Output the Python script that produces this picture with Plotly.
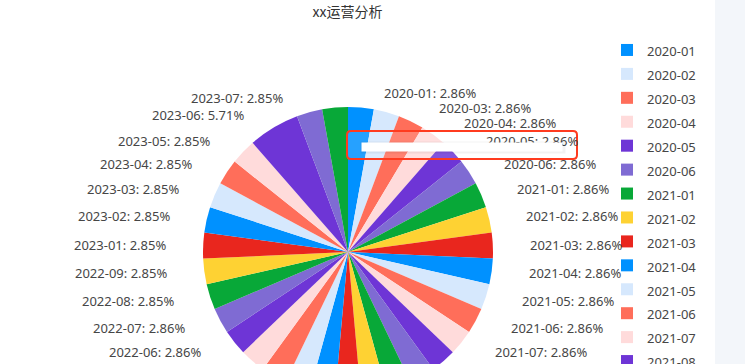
import math
import plotly.graph_objects as go

# ---------------- data ----------------
months = [
    "2020-01", "2020-02", "2020-03", "2020-04", "2020-05", "2020-06",
    "2021-01", "2021-02", "2021-03", "2021-04", "2021-05", "2021-06",
    "2021-07", "2021-08", "2021-09", "2021-10", "2021-11", "2021-12",
    "2022-02", "2022-03", "2022-04", "2022-05", "2022-06", "2022-07",
    "2022-08", "2022-09", "2023-01", "2023-02", "2023-03", "2023-04",
    "2023-05", "2023-06", "2023-07", "2023-08",
]
values = [
    1, 1, 1, 1, 1, 1,
    1, 1, 1, 1, 1, 1,
    1, 1, 1, 1, 1, 1,
    1, 1, 1, 1, 1, 1,
    1, 1, 1, 1, 1, 1,
    1, 2, 1, 1,
]
palette = ["#0091FF", "#D6E8FD", "#FF6E5A", "#FFDBDB", "#6E35D6",
           "#7F6BD3", "#08A838", "#FED233", "#E9261E"]
title_text = "xx运营分析"

# ---------------- helpers ----------------
W, H = 745, 870
CX, CY, R = 348, 252, 145        # pie centre / radius in pixels
LABEL_FONT = 13


def px(x):
    return x / W


def py(y):
    return 1 - y / H


def percents(vals, precision=2):
    total = sum(vals)
    digits = 10 ** precision
    votes = [v / total * 100 * digits for v in vals]
    seats = [math.floor(x) for x in votes]
    rem = [x - s for x, s in zip(votes, seats)]
    cur = sum(seats)
    while cur < 100 * digits:
        idx = max(range(len(rem)), key=lambda i: (rem[i], -i))
        seats[idx] += 1
        rem[idx] = -1
        cur += 1
    return [s / digits for s in seats]


CHAR_W = {"-": 0.32, ":": 0.26, " ": 0.26, ".": 0.27, "%": 0.82}


def text_width(t):
    return sum(CHAR_W.get(ch, 0.572) for ch in t) * LABEL_FONT


pcts = percents(values)
colors = [palette[i % len(palette)] for i in range(len(months))]
legend_labels = [f"<span style='font-size:13px'>{m}</span>" for m in months]

fig = go.Figure()
fig.add_trace(go.Pie(
    labels=legend_labels,
    values=values,
    sort=False,
    direction="clockwise",
    rotation=0,
    marker=dict(colors=colors, line=dict(width=0)),
    textinfo="none",
    hoverinfo="none",
    domain=dict(x=[px(CX - R), px(CX + R)], y=[py(CY + R), py(CY - R)]),
    showlegend=True,
))

# ---------------- outside labels (positions derived from the data) ----------------
candidates = []
total = sum(values)
cum = 0
for i, (m, v, p) in enumerate(zip(months, values, pcts)):
    a = (cum + v / 2) / total * 2 * math.pi
    cum += v
    s, c = math.sin(a), math.cos(a)
    dx = (R + 15) * s
    dy = (R + 15) * c
    right = s >= 0
    text = f"{m}: {p:.2f}%"
    tw = text_width(text)
    xs = dx + (20 if right else -20)
    bx0 = CX + xs if right else CX + xs - tw
    by = CY - dy
    candidates.append(dict(i=i, v=v, text=text, right=right, xs=xs, dy=dy,
                           box=(bx0, bx0 + tw, by - 7, by + 7)))

# hide labels that overlap an already placed label (larger slices first)
placed = []
for cand in sorted(candidates, key=lambda d: (-d["v"], d["i"])):
    b = cand["box"]
    clash = any(b[0] < q[1] and q[0] < b[1] and b[2] < q[3] and q[2] < b[3]
                for q in placed)
    if not clash:
        placed.append(b)
        cand["show"] = True

annotations = []
for cand in candidates:
    if not cand.get("show"):
        continue
    annotations.append(dict(
        x=px(CX), y=py(CY), xref="paper", yref="paper",
        text=cand["text"], showarrow=False,
        xanchor="left" if cand["right"] else "right", yanchor="middle",
        xshift=cand["xs"], yshift=cand["dy"],
        font=dict(family="Noto Sans", size=LABEL_FONT, color="#464646"),
    ))

# redaction bar (shadow + white bar) drawn over the text
annotations.append(dict(
    x=px(463), y=py(148), xref="paper", yref="paper", text=" ",
    showarrow=False, width=204, height=11, bgcolor="rgba(0,0,0,0.05)",
    borderpad=0, font=dict(size=6), xanchor="center", yanchor="middle",
))
annotations.append(dict(
    x=px(462), y=py(147), xref="paper", yref="paper", text=" ",
    showarrow=False, width=200, height=8, bgcolor="#FFFFFF",
    borderpad=0, font=dict(size=6), xanchor="center", yanchor="middle",
))

# rounded red highlight box
x0, x1, y0, y1, rr = 347, 577, 131, 159, 4
box_path = (
    f"M {px(x0 + rr)} {py(y0)} L {px(x1 - rr)} {py(y0)} "
    f"Q {px(x1)} {py(y0)} {px(x1)} {py(y0 + rr)} L {px(x1)} {py(y1 - rr)} "
    f"Q {px(x1)} {py(y1)} {px(x1 - rr)} {py(y1)} L {px(x0 + rr)} {py(y1)} "
    f"Q {px(x0)} {py(y1)} {px(x0)} {py(y1 - rr)} L {px(x0)} {py(y0 + rr)} "
    f"Q {px(x0)} {py(y0)} {px(x0 + rr)} {py(y0)} Z"
)

shapes = [
    dict(type="rect", xref="paper", yref="paper", x0=px(715), x1=1, y0=0, y1=1,
         fillcolor="#F3F6FA", line=dict(width=0), layer="below"),
    dict(type="path", xref="paper", yref="paper", path=box_path,
         line=dict(color="#FF3B1F", width=2), fillcolor="rgba(255,255,255,0.15)",
         layer="above"),
]

fig.update_layout(
    width=W, height=H,
    margin=dict(l=0, r=0, t=0, b=0),
    paper_bgcolor="#FFFFFF",
    plot_bgcolor="#FFFFFF",
    title=dict(text=title_text, x=px(347.5), xanchor="center",
               y=1 - 12.5 / H, yref="container", yanchor="middle",
               font=dict(family="Noto Sans CJK SC", size=14, color="#333333")),
    legend=dict(x=px(607), xanchor="left", y=py(33), yanchor="top",
                font=dict(family="Noto Sans", size=16.1, color="#464646"),
                bgcolor="rgba(0,0,0,0)", traceorder="normal"),
    annotations=annotations,
    shapes=shapes,
)

fig.write_html(
    "out.html",
    config={"displayModeBar": False},
    post_script="document.body.style.margin='0';document.body.style.overflow='hidden';"
                "document.documentElement.style.overflow='hidden';",
)
